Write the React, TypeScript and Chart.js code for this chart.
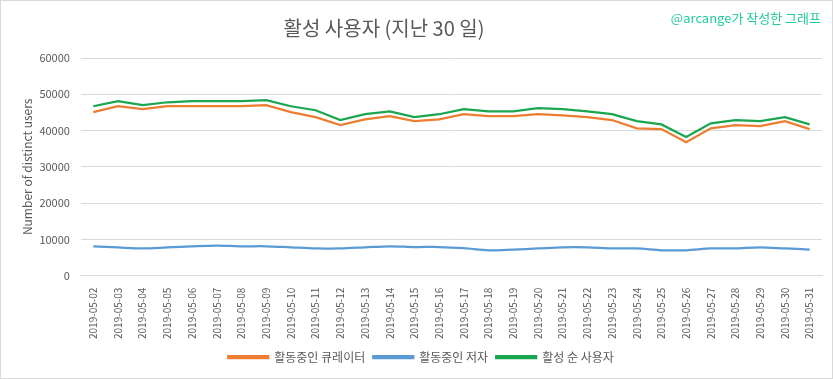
import React, { useEffect, useRef } from "react";
import { Chart, registerables } from "chart.js";

Chart.register(...registerables);

const dates = [
  "2019-05-02", "2019-05-03", "2019-05-04", "2019-05-05", "2019-05-06", "2019-05-07",
  "2019-05-08", "2019-05-09", "2019-05-10", "2019-05-11", "2019-05-12", "2019-05-13",
  "2019-05-14", "2019-05-15", "2019-05-16", "2019-05-17", "2019-05-18", "2019-05-19",
  "2019-05-20", "2019-05-21", "2019-05-22", "2019-05-23", "2019-05-24", "2019-05-25",
  "2019-05-26", "2019-05-27", "2019-05-28", "2019-05-29", "2019-05-30", "2019-05-31",
];

const curators = [
  45100, 46700, 45900, 46700, 46700, 46700, 46700, 47000, 45100, 43700, 41500, 43100,
  44000, 42600, 43100, 44500, 44000, 44000, 44500, 44200, 43700, 42900, 40600, 40400,
  36800, 40600, 41500, 41200, 42600, 40400,
];

const authors = [
  8100, 7800, 7500, 7800, 8100, 8300, 8100, 8100, 7800, 7500, 7500, 7800,
  8100, 7900, 7900, 7600, 7000, 7200, 7500, 7800, 7800, 7500, 7500, 7000,
  7000, 7500, 7500, 7800, 7500, 7200,
];

const uniqueUsers = [
  46700, 48100, 47000, 47800, 48100, 48100, 48100, 48400, 46700, 45600, 42900, 44500,
  45300, 43700, 44500, 45900, 45300, 45300, 46200, 45900, 45300, 44500, 42600, 41700,
  38200, 42000, 42900, 42600, 43700, 41700,
];

const seriesNames = ["활동중인 큐레이터", "활동중인 저자", "활성 순 사용자"];
const titleText = "활성 사용자 (지난 30 일)";
const noteText = "@arcange가 작성한 그래프";
const yTitle = "Number of distinct users";

const FONT = "'Noto Sans CJK KR', 'Noto Sans', sans-serif";

export default function App() {
  const ref = useRef<HTMLCanvasElement | null>(null);

  useEffect(() => {
    document.body.style.margin = "0";
    const ctx = ref.current;
    if (!ctx) return;
    const chart = new Chart(ctx, {
      type: "line",
      data: {
        labels: dates,
        datasets: [
          {
            label: seriesNames[0],
            data: curators,
            borderColor: "#ED7D31",
            backgroundColor: "#ED7D31",
            borderWidth: 2.25,
            pointRadius: 0,
            tension: 0,
          },
          {
            label: seriesNames[1],
            data: authors,
            borderColor: "#5B9BD5",
            backgroundColor: "#5B9BD5",
            borderWidth: 2.25,
            pointRadius: 0,
            tension: 0.3,
          },
          {
            label: seriesNames[2],
            data: uniqueUsers,
            borderColor: "#1AA64F",
            backgroundColor: "#1AA64F",
            borderWidth: 2.25,
            pointRadius: 0,
            tension: 0,
          },
        ],
      },
      options: {
        animation: false,
        responsive: false,
        maintainAspectRatio: false,
        layout: { padding: { left: 19, right: 10, top: 57, bottom: 5 } },
        plugins: {
          title: { display: false },
          legend: {
            position: "bottom",
            labels: {
              boxWidth: 40,
              boxHeight: 2,
              color: "#595959",
              font: { family: FONT, size: 12 },
              padding: 8,
            },
          },
          tooltip: { enabled: false },
        },
        scales: {
          x: {
            offset: true,
            grid: { display: false },
            border: { display: true, color: "#d9d9d9" },
            ticks: {
              color: "#595959",
              font: { family: FONT, size: 10 },
              minRotation: 90,
              maxRotation: 90,
              autoSkip: false,
              padding: 4,
            },
          },
          y: {
            min: 0,
            max: 60000,
            grid: { color: "#d9d9d9", drawTicks: false },
            border: { display: false },
            ticks: {
              stepSize: 10000,
              color: "#595959",
              font: { family: FONT, size: 11 },
              padding: 11,
              callback: (v: any) => String(v),
            },
            title: {
              display: true,
              text: yTitle,
              color: "#595959",
              font: { family: FONT, size: 12 },
              padding: { top: 0, bottom: -6 },
            },
          },
        },
      },
    });
    return () => chart.destroy();
  }, []);

  return (
    <div
      style={{
        position: "relative",
        width: 833,
        height: 379,
        boxSizing: "border-box",
        border: "1px solid #d9d9d9",
        background: "#fff",
      }}
    >
      <canvas ref={ref} width={831} height={377} style={{ display: "block" }} />
      <div
        style={{
          position: "absolute",
          left: 0,
          top: 13,
          width: 766,
          textAlign: "center",
          color: "#595959",
          fontFamily: FONT,
          fontSize: 20,
          lineHeight: "28px",
          whiteSpace: "nowrap",
        }}
      >
        {titleText}
      </div>
      <div
        style={{
          position: "absolute",
          right: 11,
          top: 5,
          color: "#22CC9A",
          fontFamily: FONT,
          fontSize: 13,
          lineHeight: "24px",
          whiteSpace: "nowrap",
        }}
      >
        {noteText}
      </div>
    </div>
  );
}
